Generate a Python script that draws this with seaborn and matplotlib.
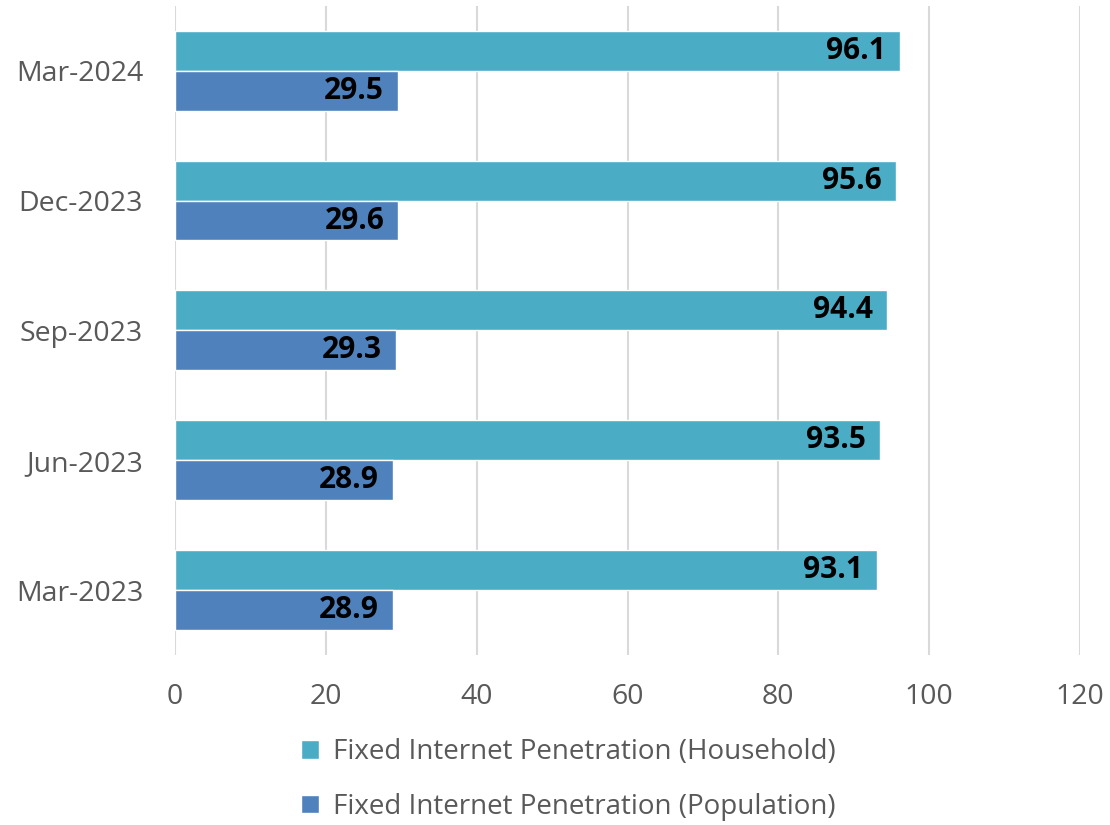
import numpy as np
import pandas as pd
import matplotlib.pyplot as plt
import seaborn as sns

periods = ["Mar-2024", "Dec-2023", "Sep-2023", "Jun-2023", "Mar-2023"]
household = [96.1, 95.6, 94.4, 93.5, 93.1]
population = [29.5, 29.6, 29.3, 28.9, 28.9]
series_names = ["Fixed Internet Penetration (Household)", "Fixed Internet Penetration (Population)"]
colors = ["#4BACC6", "#4F81BD"]

df = pd.DataFrame({
    "period": periods * 2,
    "value": household + population,
    "series": [series_names[0]] * len(periods) + [series_names[1]] * len(periods),
})

sns.set_style("white")
plt.rcParams["font.family"] = ["Open Sans", "DejaVu Sans"]

fig = plt.figure(figsize=(11.1, 8.25), dpi=100)
ax = fig.add_axes([0.1577, 0.206, 0.8153, 0.787])

sns.barplot(data=df, y="period", x="value", hue="series", order=periods,
            hue_order=series_names, palette=colors, orient="h", width=0.615,
            saturation=1, ax=ax, legend=True)

for cont in ax.containers:
    labels = ax.bar_label(cont, fmt="%.1f", padding=-10, fontsize=21.5,
                          fontweight="bold", color="black")
    for t in labels:
        t.set_ha("right")

ax.set_xlim(0, 120)
ax.set_xticks(np.arange(0, 121, 20))
ax.set_ylim(4.5, -0.5)
ax.grid(axis="x", color="#d9d9d9", linewidth=1.5)
ax.set_axisbelow(True)
for s in ax.spines.values():
    s.set_visible(False)
ax.tick_params(axis="both", length=0, labelsize=20.5, labelcolor="#595959")
ax.tick_params(axis="y", pad=23)
ax.tick_params(axis="x", pad=20)
ax.set_xlabel("")
ax.set_ylabel("")

handles, lbls = ax.get_legend_handles_labels()
ax.get_legend().remove()
fig.legend(handles, lbls, loc="center", bbox_to_anchor=(0.512, 0.055),
           frameon=False, ncol=1, fontsize=20, labelcolor="#595959",
           handlelength=0.65, handleheight=0.65, handletextpad=0.5,
           labelspacing=0.95)

fig.savefig("out.png", dpi=100)
